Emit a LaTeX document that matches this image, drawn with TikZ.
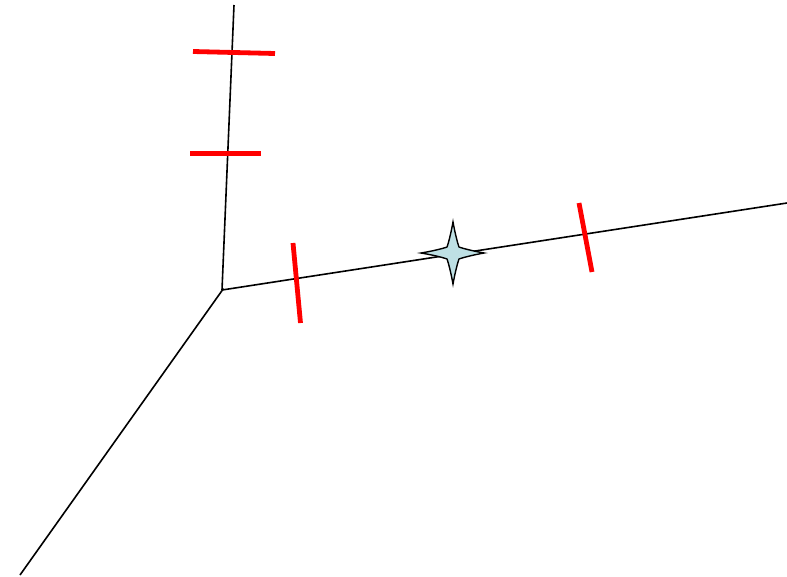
\documentclass[tikz,border=0pt]{standalone}
\usepackage{tikz}
\usetikzlibrary{calc}
\definecolor{starfill}{RGB}{190,224,228}

\begin{document}
\begin{tikzpicture}[x=1pt, y=-1pt,
    arm/.style = {black, line width=1.6pt},
    redtick/.style = {red, line width=4.8pt},
    sparkle/.style = {draw=black, line width=1.4pt, fill=starfill, line join=miter}
]
\useasboundingbox (0,0) rectangle (787,576);

\coordinate (o)   at (222,290);
\coordinate (up)  at (234,5);
\coordinate (rt)  at (787,203);
\coordinate (dl)  at (20,575);

\draw[arm] (o) -- (up);
\draw[arm] (o) -- (rt);
\draw[arm] ([xshift=1.5pt, yshift=1.5pt] o) -- (dl);

% ticks on the upper arm
\coordinate (t1a) at (193,51.5);
\coordinate (t1b) at (275,53.5);
\coordinate (t2a) at (190,153.5);
\coordinate (t2b) at (261,153.5);
\draw[redtick] (t1a) -- (t1b);
\draw[redtick] (t2a) -- (t2b);

% ticks on the right arm
\coordinate (t3a) at (293,243);
\coordinate (t3b) at (300.5,323);
\coordinate (t4a) at (579,203);
\coordinate (t4b) at (592,272);
\draw[redtick] (t3a) -- (t3b);
\draw[redtick] (t4a) -- (t4b);

% four pointed star
\coordinate (s) at (453,253);
\draw[sparkle, shift={(s)}]
  (0,-31) .. controls (2,-20) and (4.5,-10) .. (6,-6)
          .. controls (10,-4.5) and (20,-2) .. (31,0)
          .. controls (20,2) and (10,4.5) .. (6,6)
          .. controls (4.5,10) and (2,20) .. (0,31)
          .. controls (-2,20) and (-4.5,10) .. (-6,6)
          .. controls (-10,4.5) and (-20,2) .. (-32,0)
          .. controls (-20,-2) and (-10,-4.5) .. (-6,-6)
          .. controls (-4.5,-10) and (-2,-20) .. cycle;

\end{tikzpicture}
\end{document}
